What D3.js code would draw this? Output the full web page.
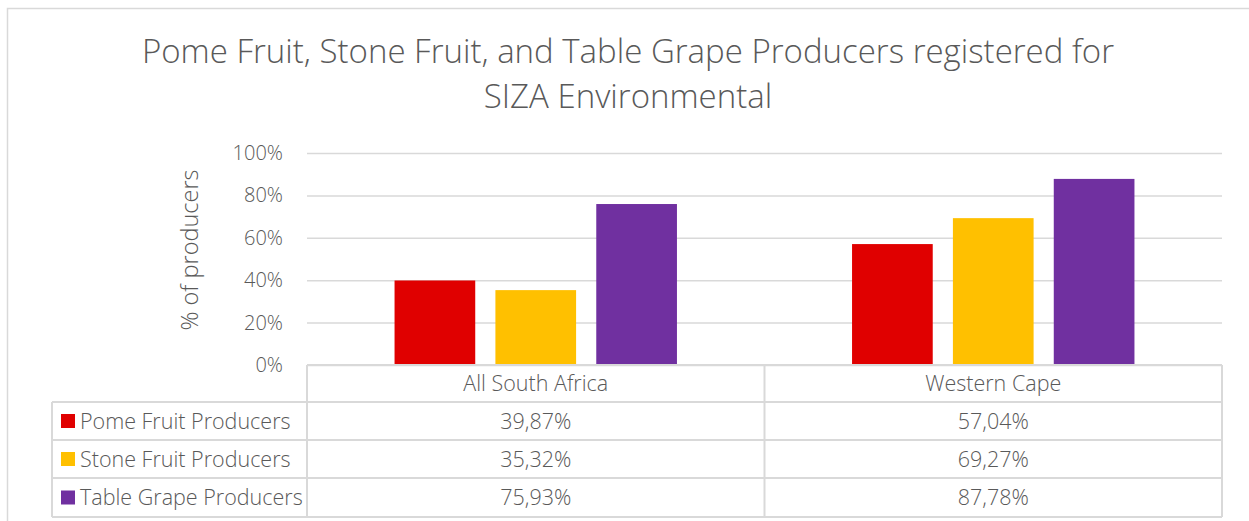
<!DOCTYPE html>
<html>
<head>
<meta charset="utf-8">
<script src="https://cdn.jsdelivr.net/npm/d3@7"></script>
<style>
  body { margin: 0; background: #fff; }
  text { font-family: "Open Sans", sans-serif; fill: #595959; }
</style>
</head>
<body>
<div id="chart"></div>
<script>
// ===========================================
// Data
var regions = ["All South Africa", "Western Cape"];
var seriesNames = ["Pome Fruit Producers", "Stone Fruit Producers", "Table Grape Producers"];
var seriesColors = ["#E00000", "#FFC000", "#7030A0"];
var pomeValues = [39.87, 57.04];
var stoneValues = [35.32, 69.27];
var grapeValues = [75.93, 87.78];
var yTicks = [0, 20, 40, 60, 80, 100];

var series = [pomeValues, stoneValues, grapeValues];

// ===========================================
// Set up SVG element & chart area
var svgWidth = 1249;
var svgHeight = 521;

var plot = {left: 307, right: 1222, top: 153, bottom: 365};
var rowTop = [365, 402, 440, 478, 517];
var tableLeft = 52;
var tableFont = "21.5px";

var svg = d3.select("#chart")
    .append("svg")
    .attr("width", svgWidth)
    .attr("height", svgHeight);

// outer chart border
svg.append("rect")
    .attr("x", 7.5).attr("y", 8.5)
    .attr("width", 1260).attr("height", 540)
    .attr("fill", "none")
    .attr("stroke", "#d9d9d9")
    .attr("stroke-width", 1.5);

// title
var title = svg.append("text")
    .attr("text-anchor", "middle")
    .attr("font-size", "33px")
    .attr("font-weight", 300);
title.append("tspan").attr("x", 628).attr("y", 63)
    .text("Pome Fruit, Stone Fruit, and Table Grape Producers registered for");
title.append("tspan").attr("x", 628).attr("y", 108)
    .text("SIZA Environmental");

// scales
var x0 = d3.scaleBand().domain(regions).range([plot.left, plot.right]);
var barW = x0.bandwidth() / (3.5 + 2.17);
var x1 = d3.scaleBand().domain(d3.range(seriesNames.length))
    .range([x0.bandwidth() / 2 - 1.75 * barW, x0.bandwidth() / 2 + 1.75 * barW])
    .paddingInner(0.25 / 1.25).paddingOuter(0);
var y = d3.scaleLinear().domain([0, 100]).range([plot.bottom, plot.top]);

// gridlines + y labels
var yAxis = d3.axisLeft(y)
    .tickValues(yTicks)
    .tickSize(-(plot.right - plot.left))
    .tickPadding(24)
    .tickFormat(d => d + "%");

var yg = svg.append("g")
    .attr("transform", `translate(${plot.left},0)`)
    .call(yAxis);
yg.select(".domain").remove();
yg.selectAll(".tick line").attr("stroke", "#d9d9d9").attr("stroke-width", 1.5);
yg.selectAll(".tick text")
    .attr("font-size", "20px")
    .attr("font-weight", 300)
    .attr("fill", "#595959")
    .attr("font-family", "Open Sans, sans-serif");

// axis title
svg.append("text")
    .attr("transform", "translate(198, 250) rotate(-90)")
    .attr("text-anchor", "middle")
    .attr("font-size", "23.5px")
    .attr("font-weight", 300)
    .text("% of producers");

// bars
series.forEach(function(vals, si){
    svg.append("g").selectAll("rect")
        .data(vals)
        .enter()
        .append("rect")
        .attr("x", (d, i) => x0(regions[i]) + x1(si))
        .attr("y", d => y(d))
        .attr("width", x1.bandwidth())
        .attr("height", d => y(0) - y(d))
        .attr("fill", seriesColors[si]);
});

// ===========================================
// Data table
var grid = svg.append("g")
    .attr("stroke", "#d9d9d9")
    .attr("stroke-width", 2)
    .attr("fill", "none");

// horizontal lines
grid.append("line").attr("x1", plot.left).attr("x2", plot.right).attr("y1", rowTop[0]).attr("y2", rowTop[0]);
rowTop.slice(1).forEach(function(r){
    grid.append("line").attr("x1", tableLeft).attr("x2", plot.right).attr("y1", r).attr("y2", r);
});
// vertical lines
grid.append("line").attr("x1", tableLeft).attr("x2", tableLeft).attr("y1", rowTop[1]).attr("y2", rowTop[4]);
var colEdges = [plot.left].concat(regions.map(r => x0(r) + x0.bandwidth()));
colEdges.forEach(function(cx){
    grid.append("line").attr("x1", cx).attr("x2", cx).attr("y1", rowTop[0]).attr("y2", rowTop[4]);
});

// header
svg.selectAll(null)
    .data(regions)
    .enter()
    .append("text")
    .attr("x", d => x0(d) + x0.bandwidth() / 2)
    .attr("y", (rowTop[0] + rowTop[1]) / 2)
    .attr("dy", "0.35em")
    .attr("text-anchor", "middle")
    .attr("font-size", tableFont)
    .attr("font-weight", 300)
    .text(d => d);

// rows
seriesNames.forEach(function(name, si){
    var cy = (rowTop[si + 1] + rowTop[si + 2]) / 2;
    svg.append("rect")
        .attr("x", 61).attr("y", cy - 7)
        .attr("width", 14).attr("height", 14)
        .attr("fill", seriesColors[si]);
    svg.append("text")
        .attr("x", 80)
        .attr("y", cy)
        .attr("dy", "0.35em")
        .attr("font-size", tableFont)
        .attr("font-weight", 300)
        .text(name);
    svg.selectAll(null)
        .data(series[si])
        .enter()
        .append("text")
        .attr("x", (d, i) => x0(regions[i]) + x0.bandwidth() / 2)
        .attr("y", cy)
        .attr("dy", "0.35em")
        .attr("text-anchor", "middle")
        .attr("font-size", tableFont)
        .attr("font-weight", 300)
        .text(d => d.toFixed(2).replace(".", ",") + "%");
});
</script>
</body>
</html>
